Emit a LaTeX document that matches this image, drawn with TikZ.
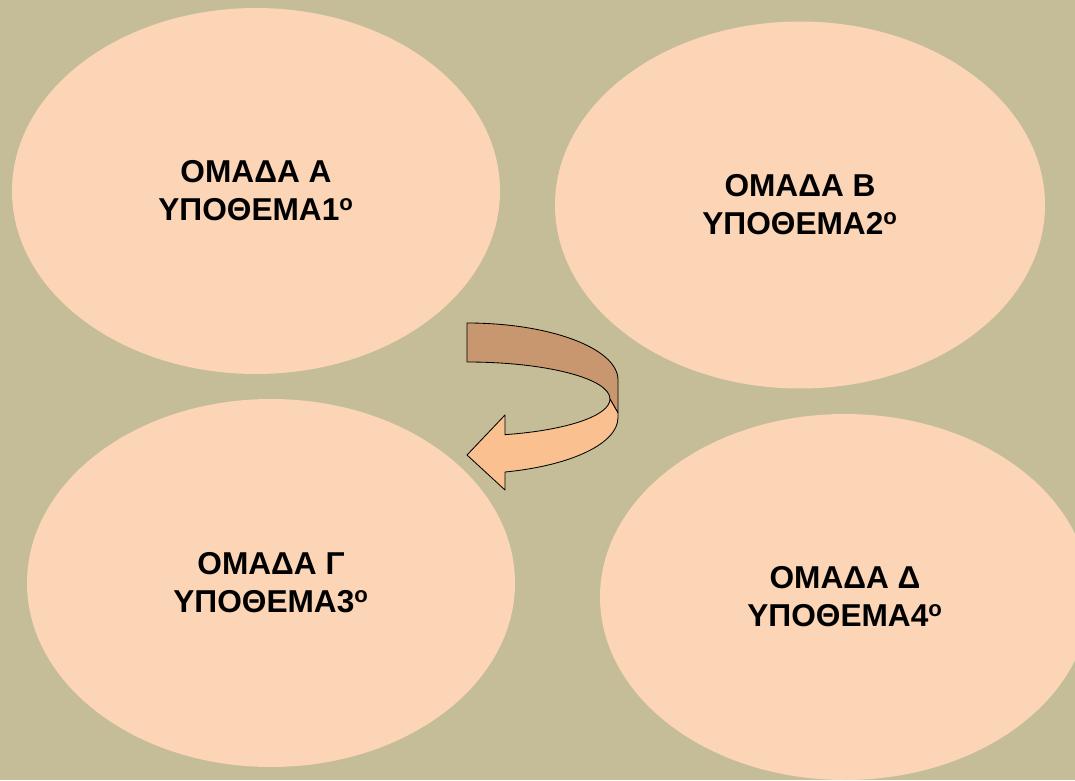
\documentclass[tikz,border=0pt]{standalone}
\usepackage{fontspec}
\setmainfont{Liberation Sans}
\usetikzlibrary{shapes.geometric}

\definecolor{bgtan}{RGB}{196,189,151}
\definecolor{peach}{RGB}{251,213,181}
\definecolor{arrowback}{RGB}{201,151,111}
\definecolor{arrowfront}{RGB}{250,192,144}

\begin{document}
\begin{tikzpicture}[
  group/.style={ellipse, fill=peach, inner sep=0pt, align=center,
    font=\fontsize{22.5pt}{27pt}\selectfont\bfseries},
  band/.style={draw=black, line width=0.6pt, line join=round}
]

\clip (0,0) rectangle (26.875,19.5);
\fill [bgtan] (0,0) rectangle (26.875,19.5);

% the four groups
\node [group, minimum width=12.2cm, minimum height=9.15cm] (grpA) at (6.4,14.725) {ΟΜΑΔΑ Α\\ΥΠΟΘΕΜΑ1\textsuperscript{ο}};
\node [group, minimum width=12.25cm, minimum height=9.175cm] (grpB) at (20,14.375) {ΟΜΑΔΑ Β\\ΥΠΟΘΕΜΑ2\textsuperscript{ο}};
\node [group, minimum width=12.2cm, minimum height=9.2cm] (grpC) at (6.775,4.925) {ΟΜΑΔΑ Γ\\ΥΠΟΘΕΜΑ3\textsuperscript{ο}};
\node [group, minimum width=12.25cm, minimum height=9.15cm] (grpD) at (21.125,4.575) {ΟΜΑΔΑ Δ\\ΥΠΟΘΕΜΑ4\textsuperscript{ο}};

% curved arrow, back side
\draw [band, fill=arrowback] (11.675,11.425)
  arc[start angle=90, end angle=0, x radius=3.775, y radius=1.425]
  -- (15.45,9.175) -- (15.25,9.525)
  arc[start angle=0, end angle=90, x radius=3.575, y radius=0.925] -- cycle;

% curved arrow, front side with head
\draw [band, fill=arrowfront] (15.25,9.525)
  arc[start angle=0, end angle=-74.6, x radius=3.575, y radius=0.925]
  -- (12.625,9.125) -- (11.675,8.125) -- (12.625,7.25) -- (12.625,7.7)
  arc[start angle=-75.4, end angle=0, x radius=3.775, y radius=1.4]
  -- (15.45,9.175) -- cycle;
\end{tikzpicture}
\end{document}
